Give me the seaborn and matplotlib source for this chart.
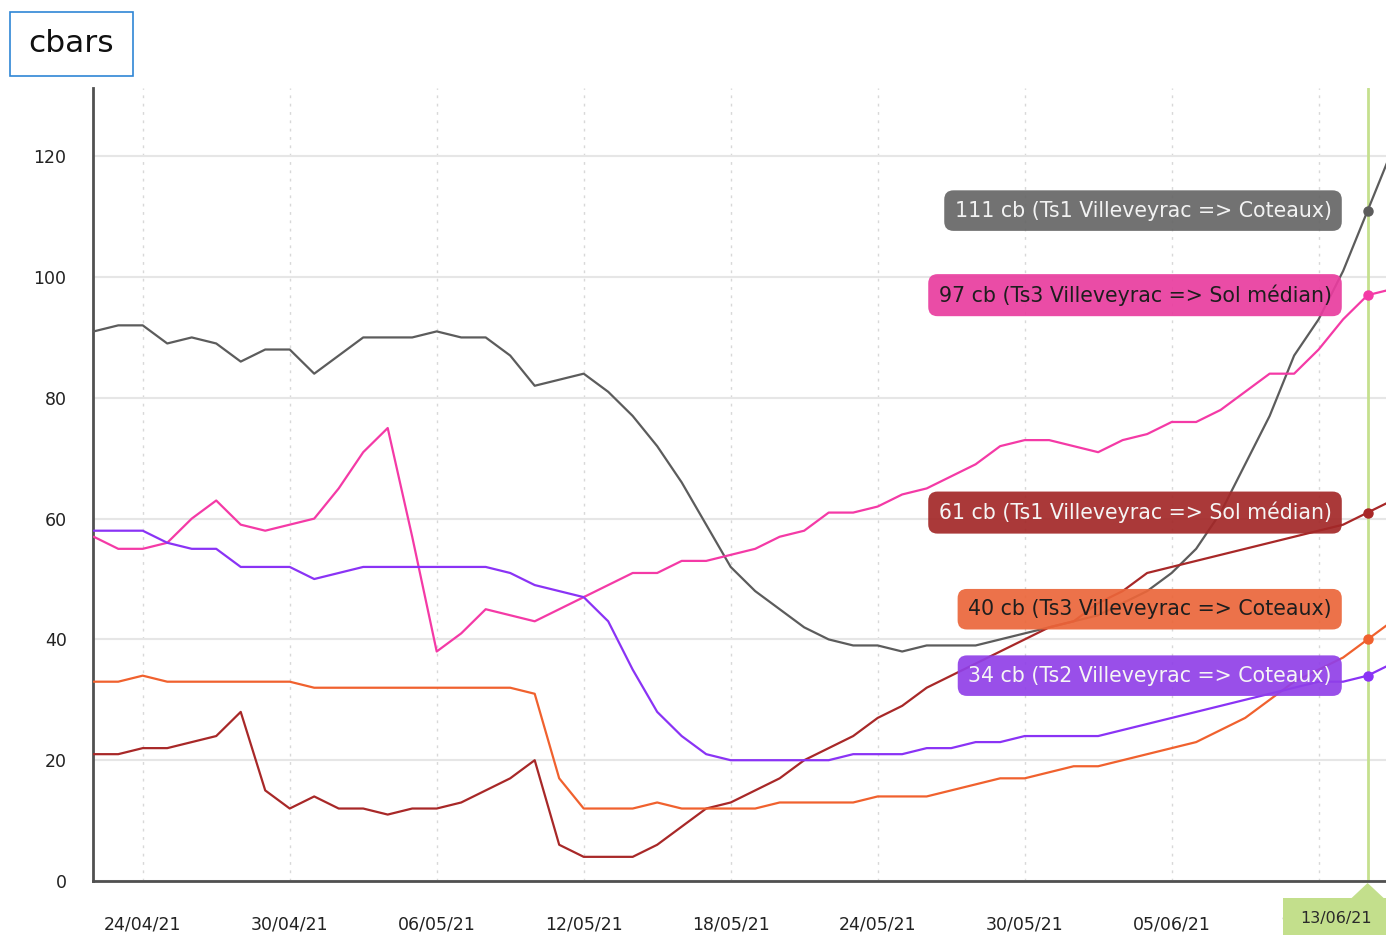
import numpy as np
import pandas as pd
import matplotlib
matplotlib.use("Agg")
import matplotlib.pyplot as plt
import matplotlib.dates as mdates
from matplotlib.patches import Rectangle, Polygon
import seaborn as sns

# ---------------- data ----------------
start_date = "2021-04-22"
n_days = 54
cursor_day = "2021-06-13"
tick_start, tick_end = "2021-04-24", "2021-06-11"

series_names = [
    "Ts1 Villeveyrac => Coteaux",
    "Ts3 Villeveyrac => Sol médian",
    "Ts1 Villeveyrac => Sol médian",
    "Ts3 Villeveyrac => Coteaux",
    "Ts2 Villeveyrac => Coteaux",
]

ts1_coteaux = [91, 92, 92, 89, 90, 89, 86, 88, 88, 84,
               87, 90, 90, 90, 91, 90, 90, 87, 82, 83,
               84, 81, 77, 72, 66, 59, 52, 48, 45, 42,
               40, 39, 39, 38, 39, 39, 39, 40, 41, 42,
               43, 44, 46, 48, 51, 55, 61, 69, 77, 87,
               93, 101, 111, 121]
ts3_sol = [57, 55, 55, 56, 60, 63, 59, 58, 59, 60,
           65, 71, 75, 57, 38, 41, 45, 44, 43, 45,
           47, 49, 51, 51, 53, 53, 54, 55, 57, 58,
           61, 61, 62, 64, 65, 67, 69, 72, 73, 73,
           72, 71, 73, 74, 76, 76, 78, 81, 84, 84,
           88, 93, 97, 98]
ts1_sol = [21, 21, 22, 22, 23, 24, 28, 15, 12, 14,
           12, 12, 11, 12, 12, 13, 15, 17, 20, 6,
           4, 4, 4, 6, 9, 12, 13, 15, 17, 20,
           22, 24, 27, 29, 32, 34, 36, 38, 40, 42,
           43, 46, 48, 51, 52, 53, 54, 55, 56, 57,
           58, 59, 61, 63]
ts3_coteaux = [33, 33, 34, 33, 33, 33, 33, 33, 33, 32,
               32, 32, 32, 32, 32, 32, 32, 32, 31, 17,
               12, 12, 12, 13, 12, 12, 12, 12, 13, 13,
               13, 13, 14, 14, 14, 15, 16, 17, 17, 18,
               19, 19, 20, 21, 22, 23, 25, 27, 30, 33,
               35, 37, 40, 43]
ts2_coteaux = [58, 58, 58, 56, 55, 55, 52, 52, 52, 50,
               51, 52, 52, 52, 52, 52, 52, 51, 49, 48,
               47, 43, 35, 28, 24, 21, 20, 20, 20, 20,
               20, 21, 21, 21, 22, 22, 23, 23, 24, 24,
               24, 24, 25, 26, 27, 28, 29, 30, 31, 32,
               33, 33, 34, 36]

all_values = [ts1_coteaux, ts3_sol, ts1_sol, ts3_coteaux, ts2_coteaux]

line_colors = ["#5c5c5c", "#f43aa6", "#a82828", "#f0612e", "#8a33f5"]
box_colors = ["#666666", "#e93d9f", "#a32828", "#eb663a", "#9040e8"]
text_colors = ["#f2f2f2", "#1e1e1e", "#f5f5f5", "#1e1e1e", "#f5f5f5"]

# ---------------- frame ----------------
dates = pd.date_range(start_date, periods=n_days, freq="D")
df = pd.DataFrame({
    "date": np.tile(dates, len(series_names)),
    "cb": np.concatenate(all_values),
    "serie": np.repeat(series_names, n_days),
})

W, H = 1386, 935
sns.set_style("white")
plt.rcParams["font.family"] = ["DejaVu Sans"]

fig = plt.figure(figsize=(W / 100, H / 100), dpi=100)
ax = fig.add_axes([93 / W, 1 - 881 / H, 1 - 93 / W, (881 - 88) / H])

sns.lineplot(data=df, x="date", y="cb", hue="serie", hue_order=series_names,
             palette=dict(zip(series_names, line_colors)), ax=ax,
             legend=False, linewidth=1.6, zorder=3)

x0 = mdates.date2num(pd.Timestamp(start_date))
ax.set_xlim(x0 - 0.03, x0 + 52.75)
ax.set_ylim(0, 131.3)

tick_dates = pd.date_range(tick_start, tick_end, freq="6D")
ax.set_xticks(mdates.date2num(tick_dates))
ax.xaxis.set_major_formatter(mdates.DateFormatter("%d/%m/%y"))
ax.set_yticks(np.arange(0, 121, 20))
ax.set_xlabel("")
ax.set_ylabel("")

ax.yaxis.grid(True, color="#e6e6e6", linewidth=1.5)
ax.xaxis.grid(True, color="#d8d8d8", linewidth=1.0, linestyle=(0, (2, 4)))
ax.set_axisbelow(True)

for s in ["top", "right"]:
    ax.spines[s].set_visible(False)
for s in ["left", "bottom"]:
    ax.spines[s].set_color("#505050")
    ax.spines[s].set_linewidth(2)

ax.tick_params(axis="x", length=10, width=2, color="#444444", pad=15,
               labelsize=12.5, labelcolor="#222222", direction="out")
ax.tick_params(axis="y", length=9, width=2, color="#444444", pad=10,
               labelsize=12.5, labelcolor="#222222", direction="out")

# cursor line
cx = mdates.date2num(pd.Timestamp(cursor_day))
ci = int(round(cx - x0))
ax.axvline(cx, color="#c5e08e", linewidth=2, zorder=2)

# markers + labels
cur_vals = [v[ci] for v in all_values]
order = np.argsort(cur_vals)
label_y = {}
prev = None
for i in order:
    y = cur_vals[i]
    if prev is not None and y < prev + 11:
        y = prev + 11
    label_y[i] = y
    prev = y

for i, name in enumerate(series_names):
    ax.plot([cx], [cur_vals[i]], "o", ms=6.5, color=line_colors[i], zorder=6)
    dy_pt = (label_y[i] - cur_vals[i]) * 6.04 * 0.72
    ax.annotate(f"{cur_vals[i]} cb ({name})", xy=(cx, cur_vals[i]),
                xytext=(-26, dy_pt), textcoords="offset points",
                ha="right", va="center", fontsize=14.8, color=text_colors[i],
                zorder=7,
                bbox=dict(boxstyle="round,pad=0.5,rounding_size=0.45",
                          fc=box_colors[i], ec="none", alpha=0.92))

# bottom cursor tag
fig.canvas.draw()
cpx = ax.transData.transform((cx, 0))[0]
pts = [(1283, 940), (1283, 898), (cpx - 16, 898), (cpx, 883), (cpx + 16, 898),
       (W + 5, 898), (W + 5, 940)]
fig.patches.append(Polygon([(px / W, 1 - py / H) for px, py in pts], closed=True,
                           transform=fig.transFigure, fc="#c3df8c", ec="none",
                           zorder=5))
fig.text(1336 / W, 1 - 919 / H, pd.Timestamp(cursor_day).strftime("%d/%m/%y"),
         ha="center", va="center", fontsize=11.5, color="#2a2a2a", zorder=6)

# title box
fig.patches.append(Rectangle((10 / W, 1 - 76 / H), 123 / W, 64 / H,
                             transform=fig.transFigure, fill=True, fc="white",
                             ec="#2f86d6", lw=1.2, zorder=5))
fig.text(71.5 / W, 1 - 44 / H, "cbars", ha="center", va="center",
         fontsize=22.5, color="#111111", zorder=6)

fig.savefig("out.png", dpi=100)
